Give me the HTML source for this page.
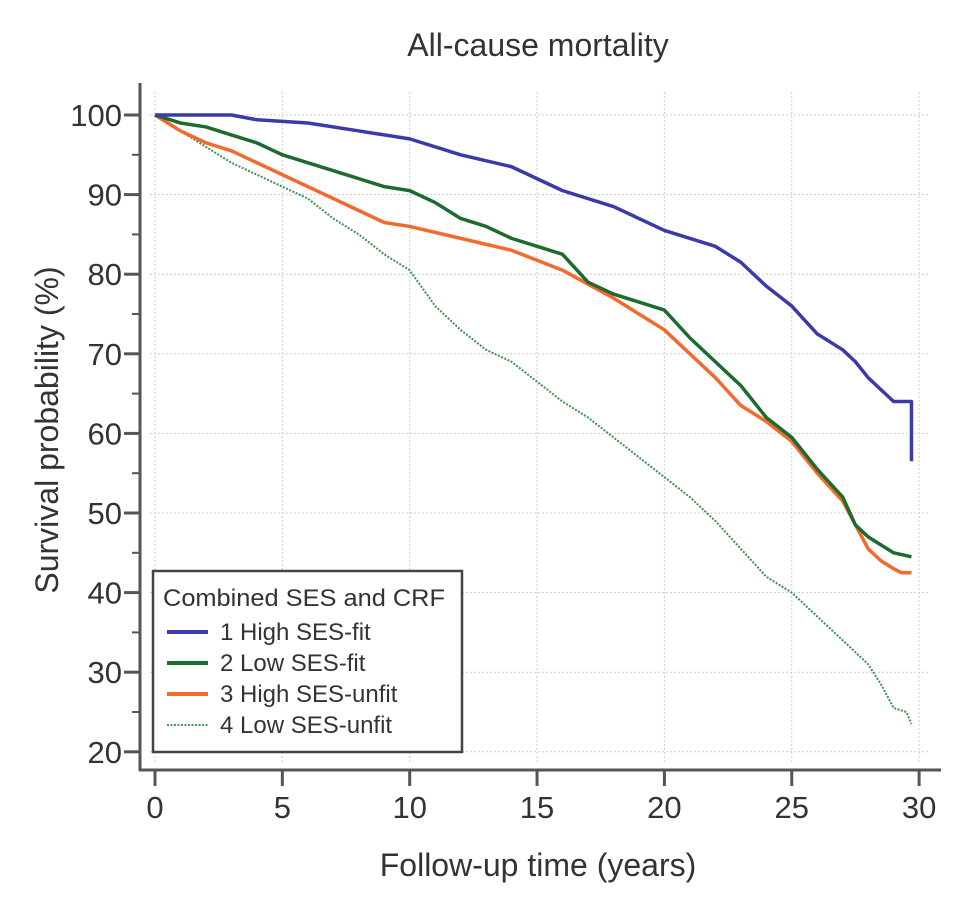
<!DOCTYPE html>
<html><head><meta charset="utf-8"><style>
body{margin:0;background:#fff;}
svg text{font-family:"Liberation Sans",sans-serif;fill:#333;}
</style></head><body>
<svg width="964" height="902">
<text x="538" y="56" font-size="32" text-anchor="middle">All-cause mortality</text>
<g id="grid"></g><g id="axes"></g><g id="series"></g>
<text x="538" y="876" font-size="32" text-anchor="middle">Follow-up time (years)</text>
<text transform="translate(58,430) rotate(-90)" font-size="32" text-anchor="middle">Survival probability (%)</text>
<g>
<rect x="153" y="571" width="309" height="181" fill="#fff" stroke="#444" stroke-width="2.5"/>
<text x="163" y="606" font-size="24" textLength="282" lengthAdjust="spacingAndGlyphs">Combined SES and CRF</text>
<line x1="167" y1="632" x2="208" y2="632" stroke="#3b3aab" stroke-width="4"/><text x="220" y="640" font-size="24">1 High SES-fit</text>
<line x1="167" y1="663" x2="208" y2="663" stroke="#1e6b30" stroke-width="4"/><text x="220" y="671" font-size="24">2 Low SES-fit</text>
<line x1="167" y1="694" x2="208" y2="694" stroke="#f26a2e" stroke-width="4"/><text x="220" y="702" font-size="24">3 High SES-unfit</text>
<line x1="167" y1="725" x2="208" y2="725" stroke="#4a9a5a" stroke-width="2" stroke-dasharray="2,1.5"/><text x="220" y="733" font-size="24">4 Low SES-unfit</text>
</g>
</svg>
<script>
const xTicks=[0,5,10,15,20,25,30];
const yTicks=[20,30,40,50,60,70,80,90,100];
const s1t=[0,3,4,6,8,10,12,14,16,18,20,22,23,24,25,26,27,27.5,28,28.5,29,29.7,29.7];
const s1v=[100,100,99.4,99,98,97,95,93.5,90.5,88.5,85.5,83.5,81.5,78.5,76,72.5,70.5,69,67,65.5,64,64,56.5];
const s2t=[0,1,2,3,4,5,7,9,10,11,12,13,14,15,16,17,18,19,20,21,22,23,24,25,26,27,27.5,28,28.5,29,29.7];
const s2v=[100,99,98.5,97.5,96.5,95,93,91,90.5,89,87,86,84.5,83.5,82.5,79,77.5,76.5,75.5,72,69,66,62,59.5,55.5,52,48.5,47,46,45,44.5];
const s3t=[0,1,2,3,4,5,6,7,8,9,10,12,14,16,18,20,21,22,23,24,25,26,27,27.5,28,28.5,29,29.3,29.7];
const s3v=[100,98,96.5,95.5,94,92.5,91,89.5,88,86.5,86,84.5,83,80.5,77,73,70,67,63.5,61.5,59,55,51.5,48.5,45.5,44,43,42.5,42.5];
const s4t=[0,1,2,3,4,5,6,7,8,9,10,11,12,13,14,15,16,17,18,19,20,21,22,23,24,25,26,27,28,28.5,29,29.5,29.7];
const s4v=[100,98,96,94,92.5,91,89.5,87,85,82.5,80.5,76,73,70.5,69,66.5,64,62,59.5,57,54.5,52,49,45.5,42,40,37,34,31,28.5,25.5,25,23.5];
const X=t=>155+t*25.47, Y=v=>115+(100-v)*7.96;
const NS="http://www.w3.org/2000/svg";
function mk(tag,attrs,parent){const e=document.createElementNS(NS,tag);for(const k in attrs)e.setAttribute(k,attrs[k]);document.getElementById(parent).appendChild(e);return e;}
xTicks.forEach(t=>{
 const g=mk('line',{x1:X(t),x2:X(t),y1:92,y2:762,stroke:'#ccc','stroke-dasharray':'2,2'},'grid');
 
 
 const tk=mk('line',{x1:X(t),x2:X(t),y1:770,y2:786,stroke:'#555','stroke-width':3},'axes');
 
 
 const tx=mk('text',{x:X(t),y:818,'font-size':31,'text-anchor':'middle'},'axes');tx.textContent=t;
 
 
});
yTicks.forEach(v=>{
 const g=mk('line',{x1:150,x2:930,y1:Y(v),y2:Y(v),stroke:'#ccc','stroke-dasharray':'2,2'},'grid');
 
 
 const tk=mk('line',{x1:124,x2:140,y1:Y(v),y2:Y(v),stroke:'#555','stroke-width':3},'axes');
 
 
 if(v<100){const m=mk('line',{x1:132,x2:140,y1:Y(v+5),y2:Y(v+5),stroke:'#555','stroke-width':2},'axes');
 
 }
 const tx=mk('text',{x:122,y:Y(v)+11,'font-size':31,'text-anchor':'end'},'axes');tx.textContent=v;
 
 
});
const ya=mk('line',{x1:140,x2:140,y1:83,y2:771,stroke:'#555','stroke-width':3},'axes');


const xa=mk('line',{x1:139,x2:941,y1:770,y2:770,stroke:'#555','stroke-width':3},'axes');


function path(ts,vs){let d='M'+X(ts[0])+','+Y(vs[0]);for(let i=1;i<ts.length;i++){d+=' L'+X(ts[i])+','+Y(vs[i]);}return d;}
const defs=[[s4t,s4v,'#3f8f50',2,'2,1.5','series-low-ses-unfit'],[s3t,s3v,'#f26a2e',3.5,'','series-high-ses-unfit'],[s2t,s2v,'#1e6b30',3.5,'','series-low-ses-fit'],[s1t,s1v,'#3b3aab',3.5,'','series-high-ses-fit']];
defs.forEach(d=>{
 const p=mk('path',{d:path(d[0],d[1]),fill:'none',stroke:d[2],'stroke-width':d[3],'stroke-linejoin':'round','stroke-dasharray':d[4]||'none'},'series');
 
 
});
</script>
</body></html>
